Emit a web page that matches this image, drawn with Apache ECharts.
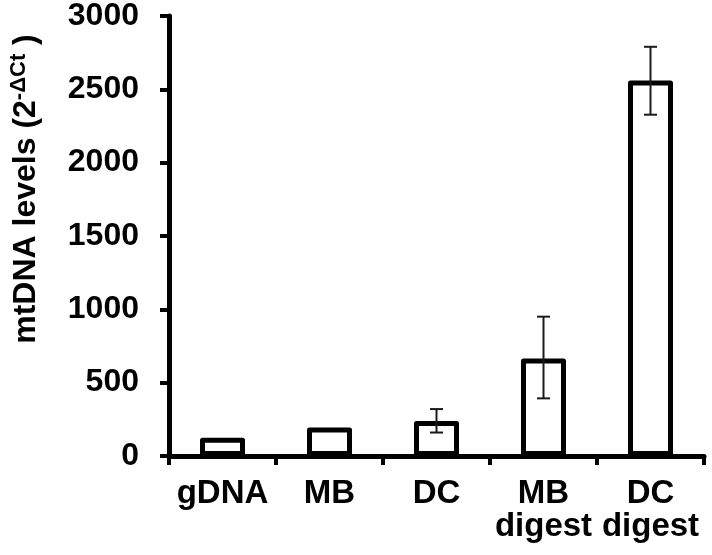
<!DOCTYPE html>
<html>
<head>
<meta charset="utf-8">
<script src="https://cdn.jsdelivr.net/npm/echarts@6/dist/echarts.min.js"></script>
<style>html,body{margin:0;padding:0;background:#fff}#c{width:712px;height:555px}</style>
</head>
<body>
<div id="c"></div>
<script>
var categories = ['gDNA', 'MB', 'DC', 'MB\ndigest', 'DC\ndigest'];
var values = [125, 195, 238, 665, 2560];
var errLow = [125, 195, 160, 393, 2327];
var errHigh = [125, 195, 320, 950, 2790];
var hasErr = [false, false, true, true, true];
var yTicks = {min: 0, max: 3000, interval: 500};

var FONT = '"Liberation Sans", Arial, sans-serif';
var chart = echarts.init(document.getElementById('c'), null, {renderer: 'canvas'});
var errData = [];
for (var i = 0; i < categories.length; i++) {
  if (hasErr[i]) errData.push([i, errLow[i], errHigh[i]]);
}
chart.setOption({
  animation: false,
  backgroundColor: '#fff',
  grid: {left: 155, right: 8, top: 14, bottom: 99, containLabel: false},
  xAxis: {
    type: 'category',
    data: categories,
    axisLine: {lineStyle: {color: '#000', width: 5}},
    axisTick: {show: true, inside: false, length: 9, lineStyle: {color: '#000', width: 4}},
    axisLabel: {color: '#000', fontFamily: FONT, fontWeight: 'bold', fontSize: 33, lineHeight: 33, margin: 21, interval: 0}
  },
  yAxis: {
    type: 'value',
    min: yTicks.min, max: yTicks.max, interval: yTicks.interval,
    splitLine: {show: false},
    axisLine: {show: true, lineStyle: {color: '#000', width: 5}},
    axisTick: {show: true, inside: false, length: 9, lineStyle: {color: '#000', width: 4}},
    axisLabel: {color: '#000', fontFamily: FONT, fontWeight: 'bold', fontSize: 32, margin: 30,
      formatter: function (v) { return String(v); }},
    name: 'mtDNA levels (2{sup|-ΔCt} )',
    nameLocation: 'middle',
    nameRotate: 90,
    nameGap: 125,
    nameTextStyle: {
      color: '#000', fontFamily: FONT, fontWeight: 'bold', fontSize: 32, lineHeight: 36,
      padding: [0, 0, 0, 94],
      rich: {sup: {fontFamily: FONT, fontWeight: 'bold', fontSize: 22, color: '#000', verticalAlign: 'top', lineHeight: 24}}
    }
  },
  series: [
    {
      type: 'bar',
      data: values,
      barWidth: 45,
      itemStyle: {color: '#fff', borderColor: '#000', borderWidth: 5, borderJoin: 'round'},
      z: 2
    },
    {
      type: 'custom',
      data: errData,
      z: 5,
      renderItem: function (params, api) {
        var x = api.value(0);
        var lo = api.coord([x, api.value(1)]);
        var hi = api.coord([x, api.value(2)]);
        var hw = 6.5;
        var st = {stroke: '#1a1a1a', lineWidth: 2};
        return {
          type: 'group',
          children: [
            {type: 'line', shape: {x1: lo[0], y1: lo[1], x2: hi[0], y2: hi[1]}, style: st},
            {type: 'line', shape: {x1: lo[0] - hw, y1: lo[1], x2: lo[0] + hw, y2: lo[1]}, style: st},
            {type: 'line', shape: {x1: hi[0] - hw, y1: hi[1], x2: hi[0] + hw, y2: hi[1]}, style: st}
          ]
        };
      }
    }
  ]
});
</script>
</body>
</html>
